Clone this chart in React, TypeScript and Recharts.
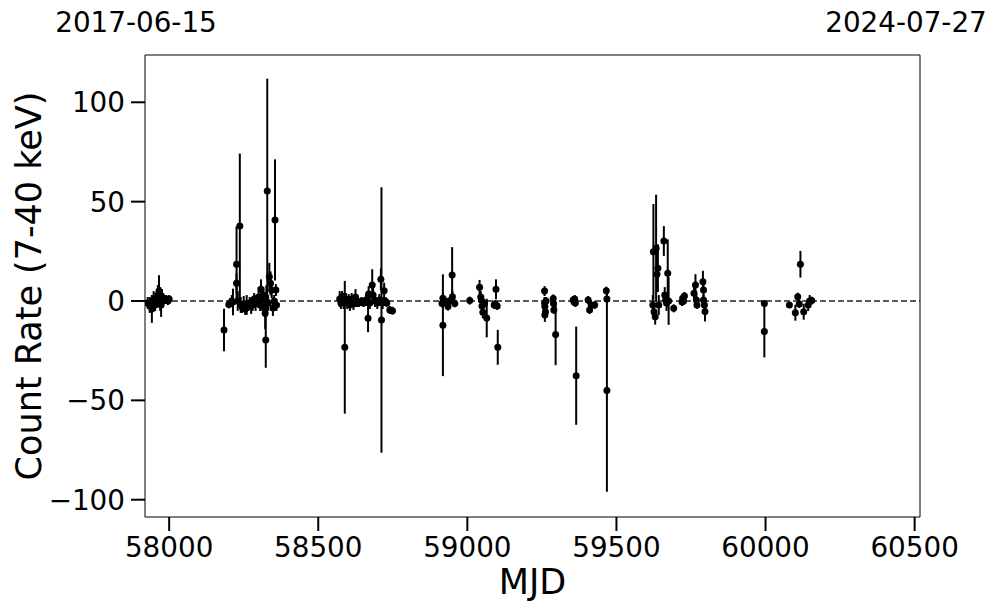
import React from 'react';
import { ScatterChart, Scatter, XAxis, YAxis, ErrorBar, ReferenceLine } from 'recharts';

// Observation epochs (MJD)
const MJD = [
  // 2017
  57928, 57935, 57942, 57948, 57953, 57958, 57962, 57966, 57970, 57973, 57976, 57980, 57984, 57990, 57996, 58000,
  // 2018
  58184, 58200, 58210, 58214, 58226, 58226, 58230, 58237, 58240, 58245, 58250, 58255, 58260, 58265, 58270, 58275,
  58280, 58285, 58290, 58295, 58300, 58305, 58308, 58312, 58316, 58320, 58322, 58324, 58326, 58329, 58332, 58336,
  58340, 58344, 58348, 58352, 58355, 58358, 58360,
  // 2019
  58572, 58576, 58580, 58585, 58589, 58593, 58597, 58602, 58606, 58612, 58618, 58625, 58630, 58636, 58645, 58652,
  58660, 58667, 58669, 58673, 58681, 58684, 58690, 58698, 58705, 58710, 58712, 58716, 58721, 58725, 58730, 58740, 58749,
  // 2020
  58915, 58918, 58918, 58925, 58935, 58940, 58949, 58950, 58958, 59008, 59041, 59045, 59047, 59049, 59052, 59058,
  59065, 59090, 59093, 59096, 59100, 59102,
  // 2021
  59259, 59259, 59260, 59262, 59260, 59264, 59288, 59289, 59290, 59296, 59355, 59358, 59360, 59362, 59365, 59405,
  59410, 59415, 59427, 59466, 59468, 59468,
  // 2022
  59622, 59624, 59626, 59630, 59633, 59636, 59639, 59642, 59659, 59662, 59665, 59668, 59672, 59675, 59692, 59720,
  59722, 59725, 59728, 59760, 59765, 59768, 59770, 59790, 59792, 59792, 59795, 59797,
  // 2023
  59996, 59996, 60080, 60100, 60108, 60113, 60117, 60128, 60143, 60148, 60155,
];

// Count rate (7-40 keV)
const RATE = [
  -1, -2, -4, 1, -2, 0, 3, 5, 1, -2, 2, 1, 0.5, 1, 0, 1,
  -14.6, -1.7, 0, -0.5, 18.5, 8.9, 0, 37.7, -2, -3, -1.5, -4, -2, -3, -1, -2.5,
  -2, 1, -1, 0, 2, -2, 5.9, 1, 3, -3, -6.2, -19.6, 0, 55.4, -1, 12.2,
  8.9, 5.5, -3.5, 0, 40.8, 5.5, -2,
  1, -1, 2, 0, -23.3, 1, -1, 0.5, -2, 1, -1.5, 2, 0, -1, 0, -1,
  0.5, -8.7, 3.5, -1, 8, 3, 0, -1, 0.5, 10.9, -9.6, -1, 5.2, 0, -1, -4.5, -4.9,
  -1.2, 1.4, -12.2, 0, -2.8, 0, 13.1, 2.2, -1.2, 0.2, 6.9, 2, 0.5, -2.5, -5.7, -1.2,
  -8.6, -2, -1.5, 5.9, -2.5, -23.3,
  5, -1, -2.8, -5.4, -7, 0, 1.3, -1.2, -4.5, -16.8, 0.5, -0.5, 1, -1, -37.6, 0.5,
  -4.5, -2, -2, 5.2, 1, -45,
  -2, 24.8, -5.4, -7.9, 26.5, 13.5, 16.5, -2, 30.2, 3, 0.5, -1, 14, 0, -3.7, -0.5,
  1.4, 0, 2.5, 3.9, 8, 0.5, -2, 9.7, 5.5, 0.5, -2, -5.3,
  -1.2, -15.4, -2, -5.9, 2.2, -1.5, 18.5, -5.4, -2, 0, 0.2,
];

// 1-sigma uncertainty
const ERR = [
  3, 4, 7, 4, 3, 3, 5, 8, 6, 6, 4, 3, 2, 2, 2, 2,
  10.7, 2, 3, 6.7, 19, 5, 5, 36.5, 4, 3, 4, 3, 5, 2, 3, 4,
  3, 3, 4, 3, 5, 3, 5, 6, 4, 5, 8, 14, 8, 56.5, 4, 7,
  6, 4, 4, 3, 30.5, 3, 3,
  4, 3, 3, 4, 33.4, 3, 3, 3, 3, 3, 3, 4, 3, 2, 2, 2,
  3, 7, 4, 3, 8, 4, 3, 3, 3, 5.5, 66.8, 3, 4, 2, 2, 2, 2,
  2, 3, 25.6, 2, 2, 2, 14, 3, 2, 2, 3.7, 3, 2, 3, 3, 2,
  9.7, 2, 2, 5, 2, 8.8,
  2.5, 3, 3, 3, 3.5, 2, 2, 2, 2, 15.5, 2, 2, 2, 2, 24.7, 2,
  2, 2, 2, 2, 2, 51,
  5, 24, 4, 4, 27, 8, 12, 5, 7.5, 4, 3, 4, 17, 12, 2, 2,
  2, 2, 2, 3, 5.5, 3, 2, 5.5, 4, 3, 3, 5,
  1.5, 13, 1.5, 4, 2, 2, 6.7, 4, 3, 3, 2,
];

const X_TICKS = [58000, 58500, 59000, 59500, 60000, 60500];
const Y_TICKS = [-100, -50, 0, 50, 100];
const X_RANGE = [57919, 60518];
const Y_RANGE = [-108.7, 123.8];
const DATE_LABELS = ['2017-06-15', '2024-07-27'];
const DATE_SHIFT = [-9, -14];

const data = MJD.map((m, i) => ({ mjd: m, rate: RATE[i], err: ERR[i] }));

const FONT = "'DejaVu Sans', sans-serif";
const TICK_FONT = 27.8;
const LABEL_FONT = 35;

const fmtY = (v: number) => (v < 0 ? '\u2212' + Math.abs(v) : String(v));

const DateTick = (props: any) => {
  const { x, y, index } = props;
  return (
    <text x={x + DATE_SHIFT[index]} y={y} textAnchor="middle" fontFamily={FONT} fontSize={TICK_FONT} fill="#000">
      {DATE_LABELS[index]}
    </text>
  );
};

const Dot = (props: any) => <circle cx={props.cx} cy={props.cy} r={3.5} fill="#000" />;

export default function App() {
  return (
    <div style={{ position: 'absolute', left: 0, top: 0, width: 997, height: 613, background: '#fff' }}>
      <ScatterChart width={997} height={613} margin={{ top: 0, right: 0, bottom: 0, left: 0 }}>
        <XAxis
          xAxisId={0}
          dataKey="mjd"
          type="number"
          domain={X_RANGE}
          allowDataOverflow
          ticks={X_TICKS}
          height={96}
          tickSize={14}
          tickMargin={6}
          axisLine={{ stroke: '#000', strokeWidth: 1 }}
          tickLine={{ stroke: '#000', strokeWidth: 2 }}
          tick={{ fill: '#000', fontSize: TICK_FONT, fontFamily: FONT }}
          label={(p: any) => {
            const vb = p.viewBox;
            return (
              <text x={vb.x + vb.width / 2} y={vb.y + 77} textAnchor="middle" fontFamily={FONT} fontSize={LABEL_FONT} fill="#000">
                MJD
              </text>
            );
          }}
        />
        <XAxis
          xAxisId="top"
          orientation="top"
          type="number"
          dataKey="mjd"
          domain={X_RANGE}
          allowDataOverflow
          ticks={X_RANGE}
          height={55}
          tickSize={0}
          tickMargin={23}
          tickLine={false}
          axisLine={{ stroke: '#000', strokeWidth: 1 }}
          tick={<DateTick />}
        />
        <YAxis
          yAxisId={0}
          dataKey="rate"
          type="number"
          domain={Y_RANGE}
          allowDataOverflow
          ticks={Y_TICKS}
          width={145}
          tickSize={14}
          tickMargin={6}
          tickFormatter={fmtY}
          axisLine={{ stroke: '#000', strokeWidth: 1 }}
          tickLine={{ stroke: '#000', strokeWidth: 2 }}
          tick={{ fill: '#000', fontSize: TICK_FONT, fontFamily: FONT }}
          label={(p: any) => {
            const vb = p.viewBox;
            const cx = vb.x + 41;
            const cy = vb.y + vb.height / 2;
            return (
              <text x={cx} y={cy} transform={`rotate(-90 ${cx} ${cy})`} textAnchor="middle" fontFamily={FONT} fontSize={LABEL_FONT} fill="#000">
                Count Rate (7-40 keV)
              </text>
            );
          }}
        />
        <YAxis
          yAxisId="right"
          orientation="right"
          type="number"
          domain={Y_RANGE}
          allowDataOverflow
          width={77}
          tick={false}
          tickLine={false}
          axisLine={{ stroke: '#000', strokeWidth: 1 }}
        />
        <ReferenceLine xAxisId={0} yAxisId={0} y={0} stroke="#222" strokeWidth={1.6} strokeDasharray="6 3" />
        <Scatter xAxisId={0} yAxisId={0} data={data} dataKey="rate" shape={<Dot />} isAnimationActive={false}>
          <ErrorBar dataKey="err" direction="y" width={0} stroke="#000" strokeWidth={2} />
        </Scatter>
      </ScatterChart>
    </div>
  );
}
